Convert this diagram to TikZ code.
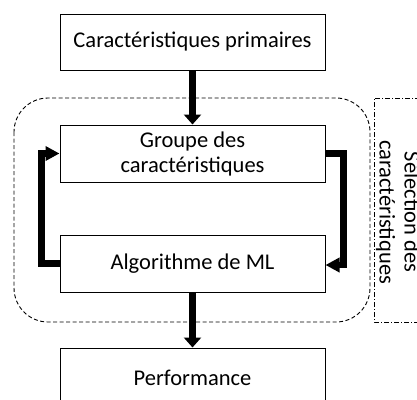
\documentclass[tikz,border=0pt]{standalone}
\usepackage{fontspec}
\setmainfont{Carlito}
\usetikzlibrary{arrows.meta}

\tikzset{
    etape/.style={draw, line width=1pt, minimum width=265pt, align=center, inner sep=2pt},
    flux/.style={line width=6.5pt, -{Triangle[width=17pt,length=10pt]}},
    boucle/.style={line width=6.5pt, line join=miter, -{Triangle[width=14pt,length=14pt]}},
}

\begin{document}
\begin{tikzpicture}[x=1pt, y=-1pt, font=\fontsize{22.5}{25}\selectfont]
    \useasboundingbox (0,0) rectangle (417,399);
    % boites principales
    \node[etape, minimum height=56pt] (prim) at (192.5,42) {Caractéristiques primaires};
    \node[etape, minimum height=57pt] (groupe) at (192.5,153.5) {Groupe des\\caractéristiques};
    \node[etape, minimum height=57pt] (algo) at (192.5,263.5) {Algorithme de ML};
    \node[etape, minimum height=60pt] (perf) at (192.5,378) {Performance};
    % zone de selection
    \draw[line width=0.9pt, dash pattern=on 4pt off 2.5pt, rounded corners=34pt] (14,98) rectangle (370,322);
    \draw[line width=0.9pt, dash pattern=on 5pt off 2pt on 1pt off 2pt] (430,98) -- (374,98) -- (374,322) -- (430,322);
    \node[rotate=-90, align=center] (selection) at (398,212) {Sélection des\\caractéristiques};
    % fleches
    \draw[flux] (prim) -- (groupe);
    \draw[flux] (algo) -- (perf);
    \draw[boucle] (algo.west) -- ++(-18,0) |- (groupe.west);
    \draw[boucle] (groupe.east) -- ++(18,0) |- ([yshift=-1.5pt]algo.east);
\end{tikzpicture}
\end{document}
